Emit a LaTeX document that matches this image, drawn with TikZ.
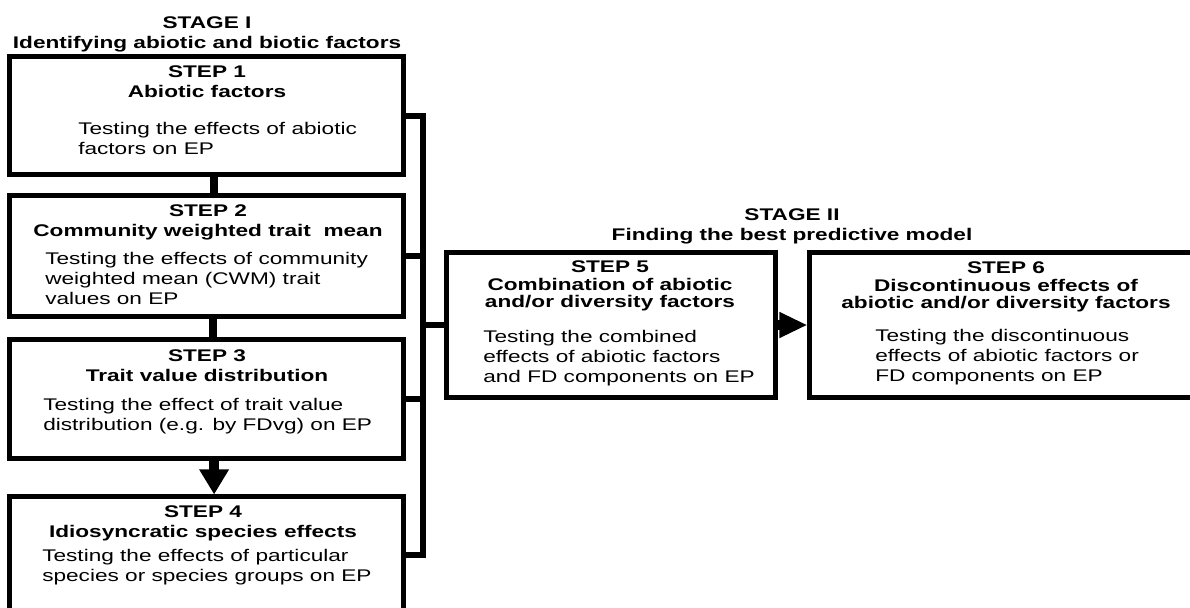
\documentclass[tikz,border=0pt]{standalone}
\usepackage{fontspec}
\setmainfont{Liberation Sans}[FakeStretch=1.34]
\usetikzlibrary{positioning,arrows.meta}

\begin{document}
\begin{tikzpicture}[x=0.025cm,y=-0.025cm,font=\fontsize{12}{14.2}\selectfont,
  stepbox/.style={draw,line width=0.125cm,inner sep=0pt,minimum width=9.825cm},
  head/.style={font=\bfseries\fontsize{12}{14.2}\selectfont,align=center,inner sep=0pt},
  tight/.style={font=\bfseries\fontsize{12}{12.2}\selectfont},
  body/.style={align=left,anchor=west,inner sep=0pt},
  link/.style={line width=0.15cm},
  stem/.style={line width=0.2cm},
  arr/.style={-{Triangle[length=0.625cm,width=0.7cm]},line width=0.25cm},
  arrh/.style={-{Triangle[length=0.7cm,width=0.6cm]},line width=0.25cm}]
\useasboundingbox (0,0) rectangle (1190,607);
% stage I boxes
\node[stepbox,minimum height=2.925cm] (s1) at (206.5,115.5) {};
\node[stepbox,minimum height=3cm] (s2) at (206.5,256) {};
\node[stepbox,minimum height=2.95cm] (s3) at (206.5,399) {};
\node[stepbox,minimum height=3.6cm] (s4) at (206.5,569) {};
\coordinate (s4r) at ([yshift=-1.5cm]s4.north east);
% stage II boxes
\node[stepbox,minimum width=8.2cm,minimum height=3.625cm] (s5) at (611,325) {};
\node[stepbox,minimum width=9.875cm,minimum height=3.625cm] (s6) at (1007.5,325) {};
% headings
\node[head] (h1) at (207,34) {STAGE I\\Identifying abiotic and biotic factors};
\node[head] (h2) at (792,226) {STAGE II\\Finding the best predictive model};
\node[head] (t1) at (207,82) {STEP 1\\Abiotic factors};
\node[head] (t2) at (208,222) {STEP 2\\Community weighted trait~ mean};
\node[head] (t3) at (207,366) {STEP 3\\Trait value distribution};
\node[head] (t4) at (203,523) {STEP 4\\Idiosyncratic species effects};
\node[head,tight] (t5) at (610,286) {STEP 5\\Combination of abiotic\\and/or diversity factors};
\node[head,tight] (t6) at (1006,287) {STEP 6\\Discontinuous effects of\\abiotic and/or diversity factors};
% descriptions
\node[body] (b1) at (78,138) {Testing the effects of abiotic\\factors on EP};
\node[body] (b2) at (45,278) {Testing the effects of community\\weighted mean (CWM) trait\\values on EP};
\node[body] (b3) at (43,416) {Testing the effect of trait value\\distribution (e.g. by FDvg) on EP};
\node[body] (b4) at (42,567.5) {Testing the effects of particular\\species or species groups on EP};
\node[body] (b5) at (483,358) {Testing the combined\\effects of abiotic factors\\and FD components on EP};
\node[body] (b6) at (875,357.5) {Testing the discontinuous\\effects of abiotic factors or\\FD components on EP};
% connectors
\coordinate (bus) at (423,0);
\draw[link] (s1.east) -- (s1.east -| bus) -- (s4r -| bus) -- (s4r);
\draw[link] (s2.east) -- (s2.east -| bus);
\draw[link] (s3.east) -- (s3.east -| bus);
\draw[link] (bus |- s5.west) -- (s5.west);
\draw[stem] ([xshift=0.19cm]s1.south) -- ([xshift=0.19cm]s2.north);
\draw[stem] ([xshift=0.17cm]s2.south) -- ([xshift=0.17cm]s3.north);
\draw[arr] ([xshift=0.19cm]s3.south) -- ([xshift=0.19cm]s4.north);
\draw[arrh] (s5.east) -- (s6.west);
\end{tikzpicture}
\end{document}
